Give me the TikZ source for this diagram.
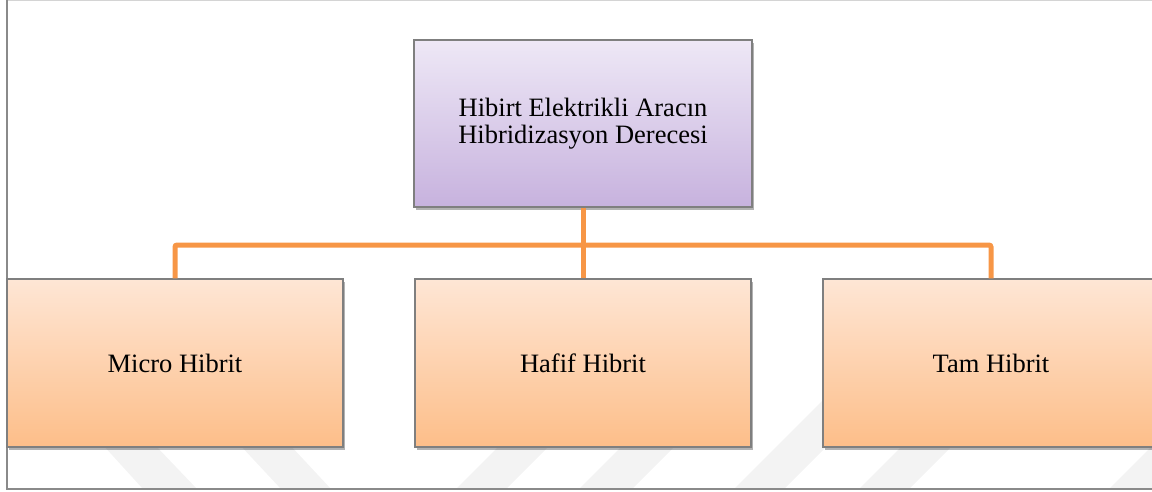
\documentclass[tikz,border=0pt]{standalone}
\usepackage{fontspec}
\setmainfont{Liberation Serif}
\usetikzlibrary{shadows}
\definecolor{framegray}{HTML}{8A8A8A}
\definecolor{framelight}{HTML}{D4D4D4}
\definecolor{boxborder}{HTML}{7F7F7F}
\definecolor{lineorange}{HTML}{F79646}
\definecolor{purpletop}{HTML}{EEE8F6}
\definecolor{purplebot}{HTML}{C7B2DE}
\definecolor{orangetop}{HTML}{FEE6D5}
\definecolor{orangebot}{HTML}{FDBE89}
\definecolor{wmark}{HTML}{F3F3F3}
\tikzset{
  basebox/.style={rectangle, draw=boxborder, line width=1.2pt, inner sep=0pt,
    align=center, font=\fontsize{26.5}{27}\selectfont,
    drop shadow={shadow xshift=1.5pt, shadow yshift=-3pt, opacity=0.3, fill=black}},
  topbox/.style={basebox, top color=purpletop, bottom color=purplebot,
    minimum width=338pt, minimum height=167pt},
  leafbox/.style={basebox, top color=orangetop, bottom color=orangebot,
    minimum width=336pt, minimum height=168pt},
  connector/.style={draw=lineorange, line width=5pt, rounded corners=2pt},
  wstripe/.style={fill=wmark, draw=none}
}
\begin{document}
\begin{tikzpicture}[x=1pt, y=-1pt]
\useasboundingbox (0,0) rectangle (1152,492);
\clip (0,0) rectangle (1152,492);
% watermark stripes
\fill[wstripe] (62,400) -- (112,400) -- (197,489) -- (143,489) -- cycle;
\fill[wstripe] (198,400) -- (248,400) -- (331,489) -- (281,489) -- cycle;
\fill[wstripe] (545,400) -- (595,400) -- (506,489) -- (456,489) -- cycle;
\fill[wstripe] (668,400) -- (721,400) -- (632,489) -- (579,489) -- cycle;
\fill[wstripe] (823,400) -- (873,400) -- (784,489) -- (734,489) -- cycle;
\fill[wstripe] (948,400) -- (998,400) -- (909,489) -- (859,489) -- cycle;
\fill[wstripe] (1198,400) -- (1248,400) -- (1159,489) -- (1109,489) -- cycle;
% frame
\draw[framelight, line width=1.5pt] (7,0.75) -- (1152,0.75);
\draw[framegray, line width=1.5pt] (7,0) -- (7,489) -- (1152,489);
% nodes
\node[topbox] (top) at (583,123.5) {Hibirt Elektrikli Aracın\\Hibridizasyon Derecesi};
\node[leafbox] (micro) at (175,363) {Micro Hibrit};
\node[leafbox] (hafif) at (583,363) {Hafif Hibrit};
\node[leafbox] (tam) at (991,363) {Tam Hibrit};
\coordinate (bar) at (583,245);
% connectors
\draw[connector] (top.south) -- (hafif.north);
\draw[connector] (micro.north) |- (bar) -| (tam.north);
\end{tikzpicture}
\end{document}
